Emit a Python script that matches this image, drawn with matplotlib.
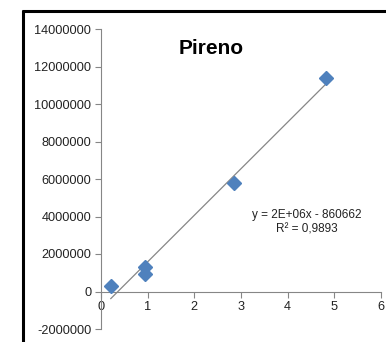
import numpy as np
import matplotlib
matplotlib.use("Agg")
import matplotlib.pyplot as plt
from matplotlib.lines import Line2D

plt.rcParams['font.family'] = ['Liberation Sans', 'DejaVu Sans']

# data
conc = [0.21, 0.94, 0.94, 2.85, 4.83]
area = [270000, 1330000, 960000, 5800000, 11400000]
title = "Pireno"
eq_text = "y = 2E+06x - 860662\nR² = 0,9893"
yticks = [-2000000, 0, 2000000, 4000000, 6000000, 8000000, 10000000, 12000000, 14000000]
xticks = [0, 1, 2, 3, 4, 5, 6]

fig = plt.figure(figsize=(3.86, 3.42), dpi=100)
ax = fig.add_axes([101 / 386, 1 - 329 / 342, 280 / 386, 300 / 342])

# linear trend line over data range
slope, inter = np.polyfit(conc, area, 1)
xs = np.array([min(conc), max(conc)])
ax.plot(xs, slope * xs + inter, color='#868686', lw=0.9, zorder=2)
ax.plot(conc, area, linestyle='none', marker='D', markersize=7,
        color='#4F81BD', zorder=3)

ax.set_xlim(0, 6)
ax.set_ylim(-2000000, 14000000)
ax.set_xticks(xticks)
ax.set_yticks(yticks)
ax.set_yticklabels([str(v) for v in yticks])

for s in ['top', 'right']:
    ax.spines[s].set_visible(False)
ax.spines['bottom'].set_position(('data', 0))
ax.spines['left'].set_color('#868686')
ax.spines['bottom'].set_color('#868686')
ax.tick_params(axis='both', colors='#868686', labelcolor='#222222',
               labelsize=9.2, length=4, width=0.8)
ax.tick_params(axis='x', pad=3)
ax.tick_params(axis='y', pad=3)

ax.text(0.395, 0.935, title, transform=ax.transAxes, fontsize=15,
        fontweight='bold', ha='center', va='center')
ax.text(0.735, 0.355, eq_text, transform=ax.transAxes, fontsize=8.5,
        ha='center', va='center', linespacing=1.25, color='#222222')

# chart border (top and left edges visible in the crop)
fig.add_artist(Line2D([22 / 386, 1], [1 - 11 / 342, 1 - 11 / 342],
                      transform=fig.transFigure, color='black', lw=2.2,
                      solid_capstyle='butt'))
fig.add_artist(Line2D([23 / 386, 23 / 386], [0, 1 - 10 / 342],
                      transform=fig.transFigure, color='black', lw=2.2,
                      solid_capstyle='butt'))

fig.savefig("out.png", dpi=100)
